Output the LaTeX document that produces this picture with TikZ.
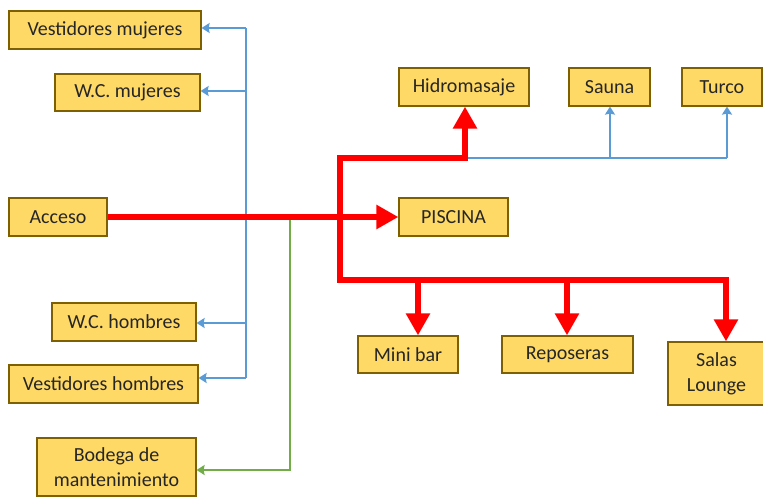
\documentclass[tikz,border=0pt]{standalone}
\usepackage{fontspec}
\setmainfont{Carlito}
\usetikzlibrary{arrows.meta}
\definecolor{boxfill}{HTML}{FFD966}
\definecolor{boxline}{HTML}{7F6000}
\definecolor{bluel}{HTML}{5B9BD5}
\definecolor{greenl}{HTML}{70AD47}
\begin{document}
\begin{tikzpicture}[x=1pt,y=1pt,
  box/.style={draw=boxline,fill=boxfill,line width=1.2pt,inner sep=0pt,align=center,
    font=\fontsize{20}{25}\selectfont,text=black!85},
  rd/.style={draw=red,line width=6pt},
  rdar/.style={rd,-{Triangle[width=23pt,length=22pt]}},
  bl/.style={draw=bluel,line width=2.8pt},
  blar/.style={bl,-{Stealth[width=10pt,length=8pt,inset=1pt]}},
  gr/.style={draw=greenl,line width=2.8pt},
  grar/.style={gr,-{Stealth[width=10pt,length=8pt,inset=1pt]}}]
\useasboundingbox (0,0) rectangle (763,-496);
% boxes
\node[box,minimum width=192pt,minimum height=38pt] (vm) at (105,-30) {Vestidores mujeres};
\node[box,minimum width=145pt,minimum height=37pt] (wcm) at (127.5,-92.5) {W.C. mujeres};
\node[box,minimum width=98pt,minimum height=38pt] (acc) at (58,-217) {Acceso};
\node[box,minimum width=144pt,minimum height=38pt] (wch) at (124,-322) {W.C. hombres};
\node[box,minimum width=189pt,minimum height=38pt] (vh) at (103.5,-384) {Vestidores hombres};
\node[box,minimum width=159pt,minimum height=58pt] (bod) at (116.5,-467) {Bodega de\\mantenimiento};
\node[box,minimum width=130pt,minimum height=38pt] (hid) at (464,-87) {Hidromasaje};
\node[box,minimum width=81pt,minimum height=38pt] (sau) at (609.5,-87) {Sauna};
\node[box,minimum width=80pt,minimum height=38pt] (tur) at (722,-87) {Turco};
\node[box,minimum width=109pt,minimum height=38pt] (pis) at (453.5,-217) {PISCINA};
\node[box,minimum width=100pt,minimum height=37pt] (mb) at (408,-354.5) {Mini bar};
\node[box,minimum width=131pt,minimum height=37pt] (rep) at (567.5,-354.5) {Reposeras};
\node[box,minimum width=97pt,minimum height=63pt] (sal) at (716.5,-373.5) {Salas\\Lounge};
% blue left tree
\coordinate (b1) at (246,-28);
\coordinate (b2) at (246,-91);
\coordinate (b3) at (246,-323);
\coordinate (b4) at (246,-378);
\draw[bl] (b1) -- (b4);
\draw[blar] (b1) -- (vm.east |- b1);
\draw[blar] (b2) -- (wcm.east |- b2);
\draw[blar] (b3) -- (wch.east |- b3);
\draw[blar] (b4) -- (vh.east |- b4);
% green
\coordinate (g1) at (290,-220);
\coordinate (g2) at (290,-470);
\draw[grar] (g1) -- (g2) -- (bod.east |- g2);
% red main
\draw[rdar] (acc.east) -- (pis.west);
\coordinate (t0) at (337,-158);
\coordinate (v0) at (340,-158);
\coordinate (v1) at (340,-280);
\coordinate (t1) at (465,-158);
\coordinate (t2) at (727,-158);
\coordinate (s1) at (610,-158);
\coordinate (u1) at (418,-280);
\coordinate (u2) at (567,-280);
\coordinate (u3) at (726,-280);
% blue top
\draw[bl] (t1) -- (t2);
\draw[blar] (s1) -- (s1 |- sau.south);
\draw[blar] (t2) -- (t2 |- tur.south);
\draw[rd,line cap=rect] (v0) -- (v1) -- (u3);
\draw[rdar] (t0) -- (t1) -- (t1 |- hid.south);
\draw[rdar] (u1) -- (u1 |- mb.north);
\draw[rdar] (u2) -- (u2 |- rep.north);
\draw[rdar] (u3) -- (u3 |- sal.north);
\end{tikzpicture}
\end{document}
